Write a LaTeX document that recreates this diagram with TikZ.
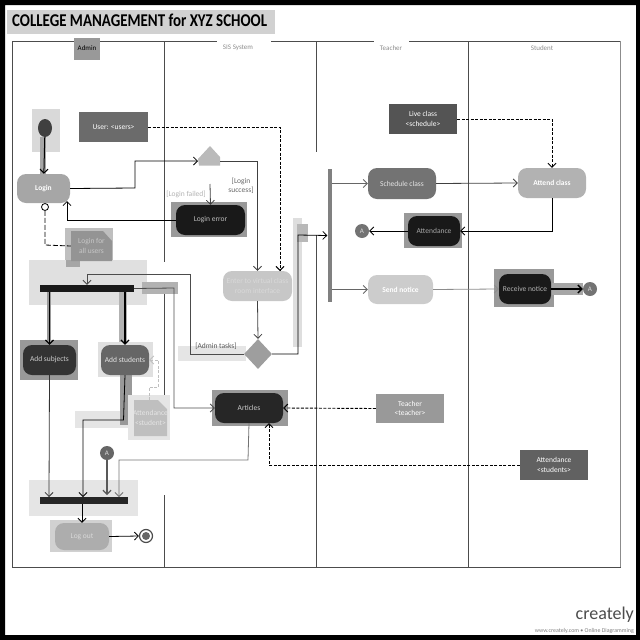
\documentclass[tikz,border=0pt]{standalone}
\usepackage{fontspec}
\setmainfont{Carlito}
\usepackage{xcolor}
\usetikzlibrary{arrows.meta,shapes.geometric}

\tikzset{
  >={Straight Barb[length=4pt,width=8pt]},
  lane/.style={draw=black!70,line width=0.9pt},
  act/.style={rounded corners=9pt,inner sep=0pt,align=center,font=\fontsize{7.5}{9.5}\selectfont},
  objbox/.style={inner sep=0pt,align=center,text=white,font=\fontsize{7.5}{9.5}\selectfont},
  guard/.style={inner sep=0pt,align=center,font=\fontsize{7.5}{9}\selectfont},
  lanehead/.style={inner sep=0pt,font=\fontsize{7}{8}\selectfont},
  ref/.style={circle,inner sep=0pt,minimum size=14pt,text=white!85!black,font=\fontsize{7}{8}\selectfont},
  bar/.style={inner sep=0pt},
  flow/.style={draw=black,line width=0.8pt,->},
  depend/.style={draw=black,line width=0.9pt,dash pattern=on 3pt off 1.5pt,->}
}

\begin{document}
\begin{tikzpicture}[x=1pt,y=-1pt]
    \useasboundingbox (0,0) rectangle (640,640);
    \fill[black,even odd rule] (0,0) rectangle (640,640) (5,5) rectangle (636,635);

    % Title
    \fill[black!18] (7,10) rectangle (275,34);
    \node[inner sep=0pt,anchor=west,xscale=0.83,transform shape,font=\fontsize{18}{20}\selectfont\bfseries] (title) at (12,20) {COLLEGE MANAGEMENT for XYZ SCHOOL};

    % Lanes
    \draw[lane] (12,41) rectangle (620,567);
    \draw[draw=black!45,line width=1pt] (620,41) -- (620,567);
    \draw[lane] (164,41) -- (164,262) (164,282) -- (164,440) (164,495) -- (164,567);
    \draw[lane] (316.5,41) -- (316.5,152) (316.5,235) -- (316.5,567);
    \draw[lane] (468.5,41) -- (468.5,567);

    % Lane headers
    \fill[black!40] (74,38) rectangle (100,60);
    \fill[white] (217,39) rectangle (271,44);
    \fill[white] (374,39) rectangle (409,44);
    \node[lanehead] (adminhead) at (87,48) {Admin};
    \node[lanehead,text=black!45] (sishead) at (238,48) {SIS System};
    \node[lanehead,text=black!45] (teacherhead) at (391,48) {Teacher};
    \node[lanehead,text=black!45] (studenthead) at (542,48) {Student};

    % Backdrops
    \fill[black!15] (32,109) rectangle (60,152);
    \fill[black!35] (40,137) rectangle (46,174);
    \fill[black!40] (171,202) rectangle (247,237);
    \fill[black!25] (65,228) rectangle (113,262);
    \fill[black!12] (29,260) rectangle (147,305);
    \fill[black!35] (66,260) rectangle (80,267);
    \fill[black!30] (142,282) rectangle (178,294);
    \fill[black!40] (47,292) rectangle (51,340);
    \fill[black!30] (119,292) rectangle (127,342);
    \fill[black!13] (293,218) rectangle (302,347);
    \fill[black!28] (297,224) rectangle (308,242);
    \fill[black!40] (20,340) rectangle (78,380);
    \fill[black!12] (98,342) rectangle (153,377);
    \fill[black!10] (178,346) rectangle (246,361);
    \fill[black!10] (75,411) rectangle (132,428);
    \fill[black!40] (120,375) rectangle (132,425);
    \fill[black!10] (128,395) rectangle (170,440);
    \fill[black!40] (212,390) rectangle (288,426);
    \fill[black!10] (29,480) rectangle (138,516);
    \fill[black!18] (50,520) rectangle (112,552);
    \fill[black!40] (404,213) rectangle (462,248);
    \fill[black!40] (494,269) rectangle (554,307);
    \fill[black!35] (551,283) rectangle (583,295);

    % Admin lane
    \node[ellipse,fill=black!75,inner sep=0pt,minimum width=14pt,minimum height=18pt] (start) at (45,128) {};
    \node[objbox,fill=black!58,minimum width=69pt,minimum height=30pt] (user) at (113.5,127) {User: <users>};
    \node[act,fill=black!35,text=white,minimum width=53pt,minimum height=29pt,font=\fontsize{7.5}{9.5}\selectfont\bfseries] (login) at (43.5,188.5) {Login};
    \node[circle,draw=black,line width=0.8pt,fill=white,inner sep=0pt,minimum size=7pt] (lollipop) at (45,207) {};
    \fill[black!42] (71,231) -- (103,231) -- (112,241) -- (112,261) -- (71,261) -- cycle;
    \node[objbox,text=black!22,minimum width=41pt,minimum height=30pt] (loginnote) at (91.5,246) {Login for\\all users};
    \node[bar,fill=black!90,minimum width=94pt,minimum height=7pt] (fork) at (87,288.5) {};
    \node[act,fill=black!80,text=white!80!black,minimum width=53pt,minimum height=30pt] (addsubjects) at (49.5,360) {Add subjects};
    \node[act,fill=black!60,text=white!90!black,minimum width=48pt,minimum height=30pt] (addstudents) at (125,360) {Add students};
    \fill[black!25] (134,400) -- (158,400) -- (167,409) -- (167,436) -- (134,436) -- cycle;
    \node[objbox,text=white!90!black,minimum width=33pt,minimum height=36pt] (attnote) at (150.5,418) {Attendance\\<student>};
    \node[ref,fill=black!60,minimum size=14pt] (refa) at (107,453) {A};
    \node[bar,fill=black!85,minimum width=88pt,minimum height=7pt] (join) at (84,500.5) {};
    \node[act,fill=black!32,text=black!15,minimum width=54pt,minimum height=27pt] (logout) at (82,536.5) {Log out};
    \node[circle,draw=black!70,line width=1.2pt,fill=white,inner sep=0pt,minimum size=13pt] (finish) at (146,536) {};
    \fill[black!60] (finish) circle (4);

    % System lane
    \fill[black!27] (210,146) -- (220,157) -- (220,165.5) -- (199,165.5) -- (198,159) -- cycle;
    \coordinate (checkin) at (198,161);
    \coordinate (checkout) at (220,161);
    \coordinate (failed) at (210,184);
    \node[guard,text=black!30] (failedlabel) at (186,194) {[Login failed]};
    \node[guard,text=black!60] (successlabel) at (241,186) {[Login\\success]};
    \node[act,fill=black!90,text=white!75!black,minimum width=69pt,minimum height=30pt] (loginerror) at (210.5,220) {Login error};
    \node[act,fill=black!22,text=white!85!black,minimum width=69pt,minimum height=30pt] (virtual) at (257.5,286) {Enter to virtual class\\room interface};
    \node[diamond,fill=black!38,inner sep=0pt,minimum width=28pt,minimum height=30pt,aspect=1] (admincheck) at (258,354) {};
    \node[guard,text=black!65] (adminlabel) at (216,346) {[Admin tasks]};
    \node[act,fill=black!85,text=white!80!black,minimum width=68pt,minimum height=30pt] (articles) at (249,408) {Articles};

    % Teacher lane
    \node[bar,fill=black!50,minimum width=4.5pt,minimum height=133pt] (split) at (329.75,235.5) {};
    \node[objbox,fill=black!67,minimum width=68pt,minimum height=30pt] (liveclass) at (423,119) {Live class\\<schedule>};
    \node[act,fill=black!55,text=white!90!black,minimum width=68pt,minimum height=31pt] (schedule) at (402,183.5) {Schedule class};
    \node[act,fill=black!90,text=white!65!black,minimum width=52pt,minimum height=30pt] (attendance) at (434,231) {Attendance};
    \node[ref,fill=black!55] (refb) at (362,231) {A};
    \node[act,fill=black!20,text=white,minimum width=65pt,minimum height=29pt,font=\fontsize{7.5}{9.5}\selectfont\bfseries] (sendnotice) at (400.5,289.5) {Send notice};
    \node[objbox,fill=black!40,minimum width=68pt,minimum height=29pt] (teacher) at (410,408.5) {Teacher\\<teacher>};

    % Student lane
    \node[act,fill=black!30,text=white,minimum width=68pt,minimum height=30pt,font=\fontsize{7.5}{9.5}\selectfont\bfseries] (attend) at (552,183) {Attend class};
    \node[act,fill=black!90,text=white!70!black,minimum width=52pt,minimum height=30pt] (receive) at (525,289) {Receive notice};
    \node[ref,fill=black!55] (refc) at (590,289) {A};
    \node[objbox,fill=black!62,minimum width=68pt,minimum height=30pt] (attbox) at (554,465) {Attendance\\<students>};

    % Logo
    \node[inner sep=0pt,anchor=east,text=black!70,font=\fontsize{18}{20}\selectfont] (logo) at (634,615) {creately};
    \node[inner sep=0pt,anchor=east,text=black!50,font=\fontsize{5.9}{7}\selectfont] (logourl) at (634,631) {www.creately.com • Online Diagramming};

    % Flows
    \draw[flow,line width=1pt] (start) -- (login);
    \draw[flow] (login.east) -- (135,188) -- (135,161) -- (checkin);
    \draw[flow,draw=black!75] (checkout) -- (257.5,161) -- (virtual.north);
    \draw[flow,draw=black!75] (failed) -- (loginerror.north);
    \draw[flow] (loginerror.west) -- (67,220) -- (67,201);
    \draw[flow,line width=1.2pt] (fork.south -| addsubjects) -- (addsubjects.north);
    \draw[flow,line width=1.2pt] (fork.south -| addstudents) -- (addstudents.north);
    \draw[draw=black,line width=0.8pt,dash pattern=on 5pt off 2pt] (lollipop.south) -- (45,245) -- (loginnote.west);
    \draw[flow,draw=black!70] (fork.east) -- (174,288) -- (174,408) -- (articles.west);
    \draw[flow,draw=black!70] (admincheck.west) -- (190,354) -- (190,274) -- (87,274) -- (fork.north);
    \draw[flow,draw=black!75] (virtual.south) -- (admincheck.north);
    \draw[flow] (admincheck.east) -- (298,354) -- (298,235) -- (split.west);
    \draw[flow,draw=black!60] (split.east |- schedule) -- (schedule.west);
    \draw[flow,draw=black!60] (split.east |- sendnotice) -- (sendnotice.west);
    \draw[flow,draw=black!75] (schedule.east) -- (attend.west);
    \draw[flow] (attend.south) -- (552,231) -- (attendance.east);
    \draw[flow] (attendance.west) -- (refb.east);
    \draw[flow,draw=black!45] (sendnotice.east) -- (receive.west);
    \draw[flow,line width=1.4pt] (receive.east) -- (refc.west);
    \draw[flow,draw=black!80] (addsubjects.south) -- (49,497);
    \draw[flow] (addstudents.south) -- (123.5,420) -- (83,420) -- (83,497);
    \draw[flow,line width=1.2pt,draw=black!65] (refa.south) -- (107,495);
    \draw[flow,draw=black!55] (articles.south) -- (248,460) -- (119,460) -- (119,497);
    \draw[flow] (join.south -| logout) -- (logout.north);
    \draw[flow] (logout.east) -- (finish.west);

    % Object flows
    \draw[depend] (user.east) -- (280,127) -- (280,271);
    \draw[depend] (liveclass.east) -- (552,119) -- (attend.north);
    \draw[depend] (teacher.west) -- (articles.east);
    \draw[depend] (attbox.west) -- (269,465) -- (269,423);
    \draw[depend,draw=black!25] (149,400) -- (149,387) -- (158,387) -- (158,360) -- (addstudents.east);
\end{tikzpicture}
\end{document}
